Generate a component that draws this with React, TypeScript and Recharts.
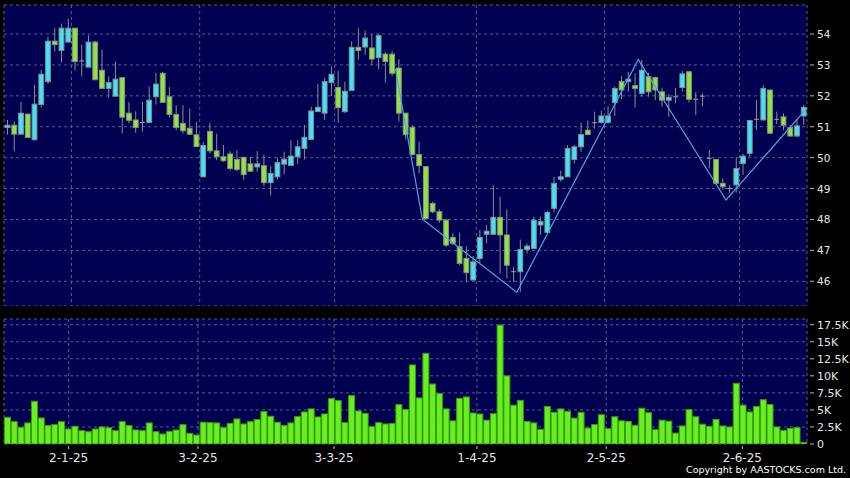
import React from 'react';
import { ComposedChart, Bar, Line, XAxis, YAxis, CartesianGrid } from 'recharts';

// daily candles, oldest first
const opens = [
  50.98, 51.05, 50.76, 51.41, 50.58, 51.72, 52.46, 53.77, 53.47, 53.74,
  54.19, 53.13, 52.93, 53.74, 52.83, 52.24, 51.99, 52.59, 51.44, 51.22,
  51.14, 51.14, 51.97, 52.73, 51.97, 51.4, 51.11, 50.95, 50.74, 49.38,
  50.85, 50.22, 50.03, 50.12, 49.94, 50.01, 49.8, 49.7, 49.74, 49.19,
  49.38, 49.79, 49.75, 50.03, 50.3, 50.59, 51.49, 51.44, 52.43, 52.27,
  51.49, 52.17, 53.57, 53.58, 53.55, 53.24, 53.35, 53.35, 52.9, 51.44,
  50.98, 50.1, 49.71, 48.52, 48.25, 47.98, 47.42, 47.12, 46.74, 46.04,
  46.74, 47.52, 47.52, 48.07, 47.5, 46.31, 46.31, 47.03, 47.06, 47.82,
  47.58, 48.36, 49.3, 49.38, 49.94, 50.35, 50.89, 51.13, 51.14, 51.14,
  51.78, 52.46, 52.46, 52.33, 52.08, 52.62, 52.59, 52.13, 51.86, 51.97,
  52.27, 52.78, 51.89, 51.99, 49.98, 49.94, 49.17, 49.0, 49.12, 49.81,
  50.14, 51.24, 51.22, 52.19, 51.24, 51.32, 50.97, 50.7, 51.35,
];
const highs = [
  51.22, 51.17, 51.81, 51.41, 52.36, 52.84, 53.92, 54.19, 54.34, 54.5,
  54.19, 53.65, 53.96, 53.78, 53.49, 52.63, 53.11, 52.59, 51.8, 51.5,
  51.81, 52.3, 52.75, 52.78, 52.28, 51.7, 51.7, 51.59, 51.16, 50.51,
  51.13, 50.78, 50.41, 50.21, 50.24, 50.03, 50.03, 50.21, 50.1, 49.72,
  50.0, 50.19, 50.57, 50.57, 51.06, 51.65, 52.39, 52.57, 52.95, 52.81,
  52.46, 53.76, 54.19, 54.11, 54.0, 54.0, 53.42, 53.46, 53.19, 51.44,
  51.05, 50.52, 49.71, 48.57, 48.33, 48.03, 47.55, 47.58, 47.12, 46.82,
  47.66, 47.82, 49.11, 48.74, 48.33, 46.47, 47.35, 47.22, 48.09, 48.09,
  48.27, 49.38, 49.58, 50.41, 50.41, 51.13, 51.2, 51.49, 51.52, 51.67,
  52.3, 52.64, 52.78, 52.73, 53.16, 52.75, 52.62, 52.27, 52.06, 52.26,
  52.81, 52.81, 52.13, 52.08, 50.25, 49.94, 49.33, 49.11, 50.01, 50.12,
  51.22, 51.86, 52.35, 52.19, 51.49, 51.43, 51.05, 51.24, 51.7,
];
const lows = [
  50.74, 50.2, 50.76, 50.65, 50.55, 51.62, 52.39, 53.44, 53.08, 53.74,
  52.82, 52.63, 52.93, 52.52, 52.24, 51.95, 51.99, 50.79, 51.11, 50.8,
  50.84, 51.14, 51.72, 51.79, 51.3, 50.89, 50.78, 50.73, 50.36, 49.38,
  50.14, 49.92, 49.86, 49.59, 49.56, 49.29, 49.56, 49.54, 49.08, 48.78,
  49.3, 49.47, 49.75, 49.79, 49.94, 50.59, 51.49, 51.22, 52.0, 51.13,
  51.44, 52.17, 53.17, 53.33, 53.0, 52.86, 52.43, 52.65, 51.17, 50.59,
  50.1, 49.49, 48.03, 48.2, 47.89, 47.12, 47.17, 46.52, 45.98, 46.04,
  46.58, 47.23, 47.52, 46.25, 46.09, 45.98, 45.66, 46.9, 47.06, 47.5,
  47.58, 48.23, 49.22, 49.38, 49.81, 50.19, 50.73, 50.95, 51.1, 51.1,
  51.35, 51.89, 52.13, 51.62, 51.97, 51.97, 51.86, 51.65, 51.32, 51.76,
  52.13, 51.78, 51.38, 51.67, 49.65, 49.17, 48.97, 48.87, 48.87, 49.44,
  50.03, 50.89, 51.22, 50.79, 51.09, 50.89, 50.68, 50.68, 51.06,
];
const closes = [
  51.05, 50.76, 51.44, 50.65, 51.73, 52.7, 53.77, 53.66, 54.19, 54.19,
  53.11, 53.13, 53.74, 52.52, 52.24, 52.43, 52.54, 51.31, 51.21, 50.98,
  51.14, 51.86, 52.38, 51.79, 51.4, 50.98, 50.87, 50.76, 50.36, 50.39,
  50.22, 50.03, 49.9, 49.65, 49.62, 49.45, 49.56, 49.8, 49.19, 49.49,
  49.84, 49.95, 50.05, 50.35, 50.66, 51.51, 51.63, 52.46, 52.7, 51.62,
  52.15, 53.57, 53.47, 53.87, 53.19, 53.95, 53.11, 52.73, 51.44, 50.75,
  50.1, 49.74, 48.03, 48.25, 47.98, 47.17, 47.23, 46.58, 46.28, 46.63,
  47.42, 47.62, 48.07, 47.5, 46.52, 46.31, 47.03, 47.14, 47.98, 47.93,
  48.23, 49.17, 49.38, 50.3, 50.35, 50.75, 50.75, 51.13, 51.35, 51.35,
  52.24, 52.19, 52.54, 52.24, 52.83, 52.13, 52.19, 51.86, 51.95, 51.97,
  52.71, 51.89, 51.89, 51.99, 49.98, 49.17, 49.06, 49.0, 49.65, 50.05,
  51.2, 51.24, 52.24, 50.79, 51.24, 51.05, 50.7, 51.03, 51.63,
];
// volume in thousands
const volumesK = [
  3.92, 3.28, 2.45, 3.09, 6.27, 3.82, 2.7, 2.84, 3.28, 2.2,
  2.6, 1.96, 1.81, 2.2, 2.5, 2.4, 1.96, 3.28, 2.7, 2.06,
  1.96, 3.09, 1.81, 1.47, 1.86, 2.06, 2.84, 1.57, 1.32, 3.19,
  3.14, 3.09, 2.4, 3.04, 3.68, 2.94, 3.28, 3.58, 4.75, 4.07,
  3.19, 2.7, 3.09, 4.02, 4.7, 5.15, 3.97, 4.41, 6.67, 6.37,
  3.14, 7.1, 4.85, 4.5, 2.55, 3.14, 2.94, 3.0, 5.78, 5.05,
  11.6, 6.76, 13.3, 8.8, 7.4, 5.15, 3.4, 6.7, 6.9, 4.55,
  4.4, 3.5, 4.45, 17.45, 10.0, 5.7, 6.4, 3.3, 3.1, 2.15,
  5.5, 4.65, 5.15, 4.8, 3.8, 4.65, 2.35, 2.85, 4.3, 2.25,
  4.0, 3.4, 3.3, 2.75, 5.25, 4.6, 2.1, 3.5, 3.35, 1.6,
  2.65, 5.05, 4.0, 2.9, 2.6, 3.6, 2.65, 2.5, 8.9, 5.7,
  4.7, 5.5, 6.5, 5.8, 2.5, 2.0, 2.3, 2.4, 0.25,
];

// wave line pivots (x in candle index units)
const zigX = [57.5, 61.5, 75.5, 93.5, 106.5, 118.5];
const zigY = [52.88, 48.01, 45.64, 53.18, 48.63, 51.6];

const dateTicks = [9.5, 28.5, 48.5, 69.5, 88.5, 108.5];
const dateLabels = ['2-1-25', '3-2-25', '3-3-25', '1-4-25', '2-5-25', '2-6-25'];
const priceTicks = [46, 47, 48, 49, 50, 51, 52, 53, 54];
const volTicks = [0, 2500, 5000, 7500, 10000, 12500, 15000, 17500];

const rows = opens.map((o, i) => ({
  i,
  o,
  h: highs[i],
  l: lows[i],
  c: closes[i],
  range: [lows[i], highs[i]],
  v: volumesK[i] * 1000,
}));
const zig = zigX.map((x, k) => ({ x, y: zigY[k] }));

const FONT = 'DejaVu Sans, Verdana, sans-serif';
const NAVY = '#000050';
const GRID = '#5a5a8e';
const UP = '#3fe3f3';
const DOWN = '#8ee63a';
const EDGE = '#8c8c8c';

const Candle = (props: any) => {
  const { x, y, width, height, payload } = props;
  const { o, h, l, c } = payload;
  const top = Math.min(y, y + height);
  const bot = Math.max(y, y + height);
  const toY = (v: number) => top + ((h - v) / (h - l)) * (bot - top);
  const cx = x + width / 2;
  const bw = 4.8;
  const yo = toY(o);
  const yc = toY(c);
  const bodyTop = Math.min(yo, yc);
  const bodyH = Math.max(Math.abs(yo - yc), 1);
  const flat = Math.abs(o - c) < 0.005;
  return (
    <g>
      <line x1={cx} x2={cx} y1={top} y2={bot} stroke={EDGE} strokeWidth={1} />
      {flat ? (
        <line x1={cx - bw / 2} x2={cx + bw / 2} y1={yo} y2={yo} stroke="#a0a0a0" strokeWidth={1} />
      ) : (
        <rect
          x={cx - bw / 2}
          y={bodyTop}
          width={bw}
          height={bodyH}
          fill={c > o ? UP : DOWN}
          stroke={EDGE}
          strokeWidth={1}
        />
      )}
    </g>
  );
};

const VolBar = (props: any) => {
  const { x, y, width, height } = props;
  if (!height) return null;
  return (
    <rect x={x + 0.5} y={y} width={width - 1} height={height} fill="#66f01c" stroke="#3d9a14" strokeWidth={1} />
  );
};

const YTick = (props: any) => {
  const { x, y, payload, fmt, size } = props;
  return (
    <g>
      <line x1={x + 3} x2={x + 7} y1={y} y2={y} stroke="#b8b8b8" />
      <text x={x + 10} y={y} dy={4} fill="#e6e6e6" fontSize={size} fontFamily={FONT}>
        {fmt(payload.value)}
      </text>
    </g>
  );
};

const DateTick = (props: any) => {
  const { x, y, payload } = props;
  const label = dateLabels[dateTicks.indexOf(payload.value)];
  return (
    <g>
      <line x1={x} x2={x} y1={y + 2} y2={y + 5} stroke="#b8b8b8" />
      <text x={x} y={y + 18} textAnchor="middle" fill="#e6e6e6" fontSize={12} fontFamily={FONT}>
        {label}
      </text>
    </g>
  );
};

const fmtPrice = (v: number) => String(v);
const fmtVol = (v: number) => (v === 0 ? '0' : `${v / 1000}K`);

export default function App() {
  return (
    <div style={{ position: 'absolute', left: 0, top: 0, width: 850, height: 478, background: '#000', overflow: 'hidden' }}>
      <div style={{ position: 'absolute', left: 0, top: 0 }}>
        <ComposedChart width={850} height={306} data={rows} margin={{ top: 5, right: 0, bottom: 0, left: 4 }} barCategoryGap={0}>
          <CartesianGrid xAxisId="z" stroke={GRID} strokeDasharray="3 3" fill={NAVY} fillOpacity={1} />
          <XAxis dataKey="i" hide height={0} />
          <XAxis xAxisId="z" type="number" dataKey="x" domain={[-0.5, 118.5]} allowDataOverflow ticks={dateTicks} hide height={0} />
          <YAxis
            orientation="right"
            width={43}
            domain={[45.2, 54.94]}
            allowDataOverflow
            ticks={priceTicks}
            axisLine={false}
            tickLine={false}
            tickSize={0}
            tickMargin={0}
            tick={<YTick fmt={fmtPrice} size={10.5} />}
          />
          <Bar dataKey="range" shape={<Candle />} isAnimationActive={false} />
          <Line
            xAxisId="z"
            data={zig}
            dataKey="y"
            stroke="#4da6e0"
            strokeWidth={1.2}
            dot={false}
            activeDot={false}
            isAnimationActive={false}
          />
        </ComposedChart>
      </div>
      <div style={{ position: 'absolute', left: 0, top: 313 }}>
        <ComposedChart width={850} height={165} data={rows} margin={{ top: 6, right: 0, bottom: 0, left: 4 }} barCategoryGap={0}>
          <CartesianGrid xAxisId="z" stroke={GRID} strokeDasharray="3 3" fill={NAVY} fillOpacity={1} />
          <XAxis dataKey="i" hide height={0} />
          <XAxis
            xAxisId="z"
            type="number"
            domain={[-0.5, 118.5]}
            allowDataOverflow
            ticks={dateTicks}
            interval={0}
            height={34}
            axisLine={false}
            tickLine={false}
            tickSize={0}
            tickMargin={0}
            tick={<DateTick />}
          />
          <YAxis
            orientation="right"
            width={43}
            domain={[0, 18340]}
            allowDataOverflow
            ticks={volTicks}
            interval={0}
            axisLine={false}
            tickLine={false}
            tickSize={0}
            tickMargin={0}
            tick={<YTick fmt={fmtVol} size={11} />}
          />
          <Bar dataKey="v" shape={<VolBar />} isAnimationActive={false} />
        </ComposedChart>
      </div>
      <div
        style={{
          position: 'absolute',
          right: 4,
          top: 464,
          color: '#fff',
          fontFamily: FONT,
          fontSize: 9.5,
          lineHeight: '12px',
          whiteSpace: 'nowrap',
        }}
      >
        Copyright by AASTOCKS.com Ltd.
      </div>
    </div>
  );
}
